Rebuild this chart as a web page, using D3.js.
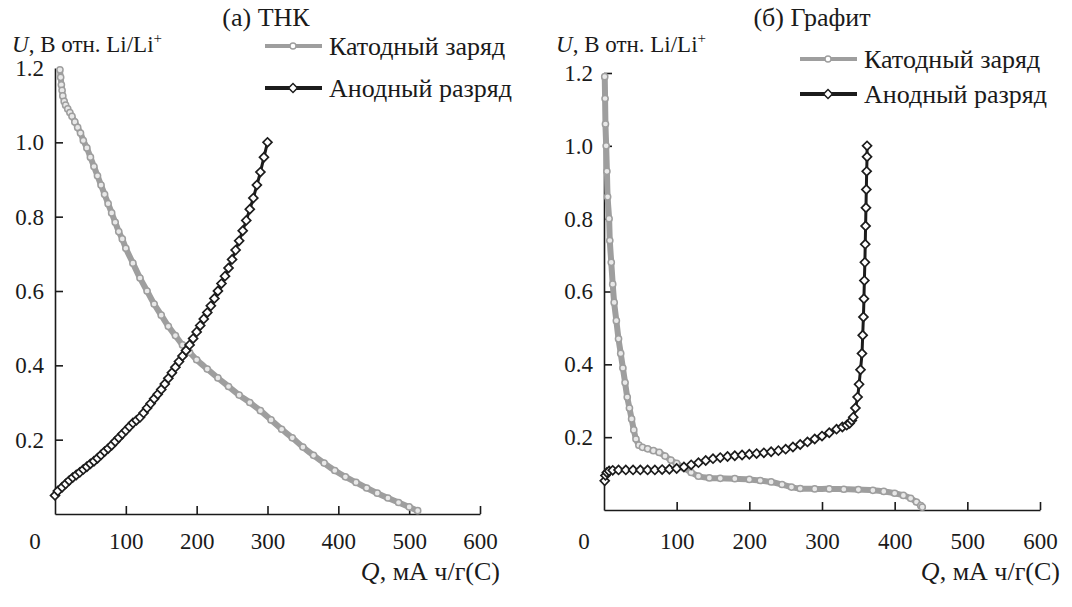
<!DOCTYPE html>
<html>
<head>
<meta charset="utf-8">
<title>ТНК / Графит</title>
<style>
  body { margin: 0; background: #fff; }
  svg text { font-family: 'Liberation Serif', 'Times New Roman', serif; font-size: 23px; fill: #1a1a1a; }
  .axis path, .axis line { stroke: #1a1a1a; stroke-width: 1.6; }
  .axis text { font-family: 'Liberation Serif', 'Times New Roman', serif; font-size: 23px; fill: #1a1a1a; }
  .big { font-size: 26px; }
</style>
</head>
<body>
<svg id="chart" width="1072" height="607"></svg>
<script src="https://cdn.jsdelivr.net/npm/d3@7/dist/d3.min.js"></script>
<script>

// values: [Q, мА ч/г ; U, В]
var qTicks = [100, 200, 300, 400, 500, 600];
var uTicks = [0.2, 0.4, 0.6, 0.8, 1.0, 1.2];
var seriesNames = ["Катодный заряд", "Анодный разряд"];
var panelTitles = ["(а) ТНК", "(б) Графит"];

var thkCharge = [
  [7,1.195],[8,1.175],[9,1.155],[10,1.14],[11,1.125],[13,1.11],[15,1.10],[18,1.09],[21,1.08],
  [24,1.07],[28,1.055],[32,1.04],[36,1.025],[40,1.005],[45,0.985],[50,0.96],[55,0.935],[60,0.91],
  [65,0.885],[70,0.86],[75,0.835],[80,0.81],[85,0.785],[90,0.76],[95,0.74],[100,0.715],[110,0.675],
  [120,0.635],[130,0.60],[140,0.565],[150,0.535],[160,0.505],[170,0.48],[180,0.455],[190,0.435],
  [200,0.415],[215,0.39],[230,0.366],[245,0.343],[260,0.32],[275,0.30],[290,0.278],[305,0.253],
  [320,0.228],[335,0.205],[350,0.18],[365,0.158],[380,0.137],[395,0.117],[410,0.10],[425,0.085],
  [440,0.07],[455,0.056],[470,0.043],[485,0.031],[500,0.019],[512,0.009]
];
var thkDischarge = [
  [0,0.05],[4,0.062],[10,0.072],[15,0.081],[20,0.09],[25,0.098],[30,0.105],[35,0.112],[40,0.12],
  [45,0.127],[50,0.135],[55,0.142],[60,0.15],[65,0.159],[70,0.168],[75,0.176],[80,0.185],[85,0.195],
  [90,0.205],[95,0.215],[100,0.225],[105,0.235],[110,0.245],[115,0.252],[120,0.26],[125,0.272],
  [130,0.285],[135,0.297],[140,0.31],[145,0.322],[150,0.335],[155,0.35],[160,0.365],[165,0.38],
  [170,0.395],[175,0.41],[180,0.425],[185,0.44],[190,0.455],[195,0.472],[200,0.49],[205,0.507],
  [210,0.525],[215,0.542],[220,0.56],[225,0.58],[230,0.60],[235,0.62],[240,0.64],[245,0.662],
  [250,0.685],[255,0.71],[260,0.735],[265,0.762],[270,0.79],[275,0.82],[280,0.85],[285,0.885],
  [290,0.92],[295,0.96],[300,1.0]
];
var graphiteCharge = [
  [1,1.19],[1.5,1.13],[2,1.06],[3,1.0],[4,0.93],[5,0.86],[7,0.8],[8,0.74],[10,0.68],[12,0.62],
  [14,0.57],[17,0.52],[20,0.47],[23,0.43],[26,0.39],[29,0.35],[32,0.31],[35,0.28],[38,0.25],
  [41,0.22],[44,0.195],[48,0.178],[53,0.172],[60,0.168],[68,0.163],[76,0.158],[84,0.148],
  [92,0.137],[100,0.128],[110,0.115],[120,0.103],[130,0.093],[145,0.088],[160,0.087],[180,0.086],
  [200,0.084],[215,0.081],[230,0.077],[245,0.07],[258,0.063],[270,0.059],[290,0.058],[310,0.058],
  [330,0.057],[350,0.056],[370,0.054],[385,0.051],[400,0.046],[412,0.04],[422,0.032],[430,0.022],
  [436,0.012],[438,0.008]
];
var graphiteDischarge = [
  [1,0.08],[2,0.095],[4,0.103],[7,0.107],[12,0.109],[20,0.11],[30,0.11],[40,0.11],[50,0.11],
  [60,0.11],[70,0.11],[80,0.111],[90,0.112],[100,0.114],[110,0.118],[120,0.124],[130,0.13],
  [140,0.136],[150,0.141],[160,0.144],[170,0.147],[180,0.149],[190,0.151],[200,0.153],[210,0.155],
  [220,0.157],[230,0.16],[240,0.163],[250,0.167],[260,0.173],[270,0.18],[280,0.187],[290,0.195],
  [300,0.203],[310,0.212],[320,0.222],[328,0.228],[334,0.233],[338,0.238],[341,0.246],[343,0.255],
  [346,0.28],[349,0.31],[351,0.345],[353,0.385],[355,0.43],[356,0.48],[357,0.53],[357.7,0.58],
  [358.3,0.63],[359,0.68],[359.5,0.73],[360,0.78],[360.5,0.83],[361,0.88],[361.5,0.93],[362,0.97],
  [362,1.0]
];

var panels = [
  { title: panelTitles[0], charge: thkCharge, discharge: thkDischarge, topTick: false,
    x0: 55, x1: 480, y0: 514, y1: 68, titleX: 266, labelX: 12, legX: 265, legY: [46, 88] },
  { title: panelTitles[1], charge: graphiteCharge, discharge: graphiteDischarge, topTick: true,
    x0: 604, x1: 1040, y0: 510, y1: 73, titleX: 812, labelX: 556, legX: 800, legY: [59, 94] }
];

var labelRow = 541;
var grey = "#9e9e9e", dark = "#1c1c1c";
var svg = d3.select("#chart");

var line = d3.line().curve(d3.curveCatmullRom.alpha(0.5));
var diamondPath = d3.symbol(d3.symbolSquare, 40)();

panels.forEach(function(p) {
  var x = d3.scaleLinear().domain([0, 600]).range([p.x0, p.x1]);
  var y = d3.scaleLinear().domain([0, 1.2]).range([p.y0, p.y1]);
  var g = svg.append("g");

  // axes, ticks point inward
  g.append("g").attr("class", "axis")
    .attr("transform", "translate(0," + p.y0 + ")")
    .call(d3.axisBottom(x).tickValues(qTicks).tickSize(-8).tickSizeOuter(0)
      .tickPadding(labelRow - p.y0))
    .call(function(a) { a.selectAll("text").attr("dy", "0.35em"); });

  g.append("g").attr("class", "axis")
    .attr("transform", "translate(" + p.x0 + ",0)")
    .call(d3.axisLeft(y).tickValues(uTicks).tickSize(-8).tickSizeOuter(0)
      .tickPadding(11).tickFormat(d3.format(".1f")))
    .call(function(a) {
      if (!p.topTick) a.selectAll(".tick line").filter(function(d) { return d === 1.2; }).remove();
    });

  g.append("text").attr("x", p.x0 - 20).attr("y", labelRow).attr("dy", "0.35em")
    .attr("text-anchor", "middle").text("0");

  // titles
  g.append("text").attr("class", "big").attr("x", p.titleX).attr("y", 26)
    .attr("text-anchor", "middle").text(p.title);

  var ul = g.append("text").attr("x", p.labelX).attr("y", 52);
  ul.append("tspan").attr("font-style", "italic").text("U");
  ul.append("tspan").text(", В отн. Li/Li");
  ul.append("tspan").attr("dy", -9).attr("font-size", 15).text("+");

  var ql = g.append("text").attr("class", "big").attr("x", p.x1 + 20).attr("y", 580)
    .attr("text-anchor", "end");
  ql.append("tspan").attr("font-style", "italic").text("Q");
  ql.append("tspan").text(", мА ч/г(С)");

  // cathode charge: grey line with open circles
  g.append("path").datum(p.charge.map(function(d) { return [x(d[0]), y(d[1])]; }))
    .attr("d", line).attr("fill", "none").attr("stroke", grey).attr("stroke-width", 6);
  g.append("g").selectAll("circle").data(p.charge).join("circle")
    .attr("cx", function(d) { return x(d[0]); })
    .attr("cy", function(d) { return y(d[1]); })
    .attr("r", 3.1).attr("fill", "#e8e8e8").attr("stroke", grey).attr("stroke-width", 1.5);

  // anodic discharge: black line with open diamonds
  g.append("path").datum(p.discharge.map(function(d) { return [x(d[0]), y(d[1])]; }))
    .attr("d", line).attr("fill", "none").attr("stroke", dark).attr("stroke-width", 3);
  g.append("g").selectAll("path").data(p.discharge).join("path")
    .attr("transform", function(d) { return "translate(" + x(d[0]) + "," + y(d[1]) + ") rotate(45)"; })
    .attr("d", diamondPath)
    .attr("fill", "#fff").attr("stroke", dark).attr("stroke-width", 1.7);

  // legend
  var lg = g.append("g");
  lg.append("line").attr("x1", p.legX).attr("x2", p.legX + 57)
    .attr("y1", p.legY[0]).attr("y2", p.legY[0]).attr("stroke", grey).attr("stroke-width", 4);
  lg.append("circle").attr("cx", p.legX + 28).attr("cy", p.legY[0]).attr("r", 3)
    .attr("fill", "#fff").attr("stroke", grey).attr("stroke-width", 1.4);
  lg.append("text").attr("class", "big").attr("x", p.legX + 64).attr("y", p.legY[0])
    .attr("dy", "0.35em").text(seriesNames[0]);

  lg.append("line").attr("x1", p.legX).attr("x2", p.legX + 57)
    .attr("y1", p.legY[1]).attr("y2", p.legY[1]).attr("stroke", dark).attr("stroke-width", 4);
  lg.append("path").attr("d", diamondPath)
    .attr("transform", "translate(" + (p.legX + 28) + "," + p.legY[1] + ") rotate(45)")
    .attr("fill", "#fff").attr("stroke", dark).attr("stroke-width", 1.5);
  lg.append("text").attr("class", "big").attr("x", p.legX + 64).attr("y", p.legY[1])
    .attr("dy", "0.35em").text(seriesNames[1]);
});

</script>
</body>
</html>
